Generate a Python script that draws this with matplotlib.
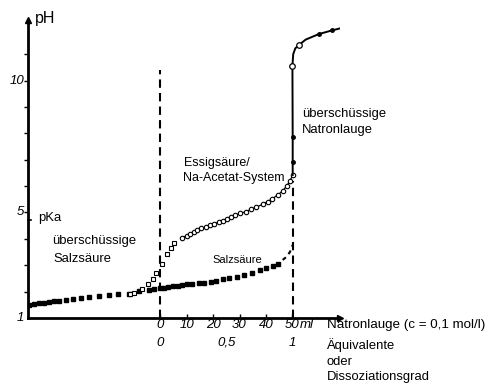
import matplotlib.pyplot as plt

plt.rcParams['font.family'] = ['Liberation Sans', 'DejaVu Sans']

# HCl titration (filled squares)
hcl_ml = [-49.6, -47.7, -45.8, -43.9, -42.0, -40.2, -38.3, -35.7, -33.0, -30.0,
          -26.9, -23.1, -19.3, -15.8, -11.7, -8.0, -4.2, -2.3, -0.1, 1.5, 3.1,
          4.9, 6.6, 8.4, 10.3, 12.2, 14.5, 16.7, 19.2, 21.1, 23.6, 26.1, 28.9,
          31.8, 34.9, 37.8, 40.0, 42.5, 44.4]
hcl_ph = [1.49, 1.53, 1.56, 1.58, 1.61, 1.63, 1.66, 1.69, 1.72, 1.76, 1.78,
          1.82, 1.86, 1.90, 1.92, 2.02, 2.06, 2.09, 2.12, 2.15, 2.17, 2.20,
          2.22, 2.25, 2.28, 2.30, 2.31, 2.34, 2.38, 2.41, 2.47, 2.52, 2.56,
          2.64, 2.69, 2.82, 2.91, 2.98, 3.05]
hcl_end_ml = [46.3, 47.8, 49.1, 50.1]
hcl_end_ph = [3.20, 3.32, 3.51, 3.77]

# acetic acid, early points (open squares)
ac_sq_ml = [-11.4, -10.1, -6.7, -4.8, -2.9, -1.7, 0.7, 2.4, 3.9, 5.4]
ac_sq_ph = [1.90, 1.96, 2.09, 2.29, 2.48, 2.69, 3.05, 3.42, 3.64, 3.83]

# acetic acid / acetate buffer (open circles, connected)
ac_ml = [8.1, 10.0, 11.2, 12.6, 13.9, 15.6, 17.3, 18.9, 20.5, 22.1, 23.6,
         25.1, 26.8, 28.4, 30.3, 32.5, 34.4, 36.3, 38.8, 40.6, 42.2, 44.4,
         46.3, 47.8, 49.1, 50.1]
ac_ph = [4.02, 4.12, 4.18, 4.27, 4.32, 4.40, 4.46, 4.52, 4.57, 4.64, 4.69,
         4.75, 4.83, 4.89, 4.97, 5.03, 5.12, 5.20, 5.31, 5.41, 5.51, 5.66,
         5.81, 6.00, 6.20, 6.42]

# excess NaOH
na_ml = [50.1, 50.1, 50.1, 50.0, 50.3, 51.1, 52.4, 55.0, 60.0, 65.0, 67.8]
na_ph = [6.42, 6.90, 7.85, 10.56, 11.00, 11.22, 11.34, 11.55, 11.76, 11.90, 11.97]
na_circ_ml = [50.0, 52.4]
na_circ_ph = [10.56, 11.34]
na_dot_ml = [50.1, 50.1, 60.0, 65.0]
na_dot_ph = [6.90, 7.85, 11.76, 11.90]

fig = plt.figure(figsize=(4.92, 3.87), dpi=100)
ax = fig.add_axes([0.0569, 0.1783, 0.6342, 0.7705])
ax.set_xlim(-50, 68)
ax.set_ylim(1, 12.3)

for s in ['top', 'right']:
    ax.spines[s].set_visible(False)
ax.spines['left'].set_linewidth(2)
ax.spines['bottom'].set_linewidth(2)
ax.plot([0], [1], marker='^', color='k', ms=4, transform=ax.transAxes, clip_on=False)
ax.plot([1], [0], marker='>', color='k', ms=4, transform=ax.transAxes, clip_on=False)

ax.set_yticks(range(2, 12))
ax.set_yticklabels([])
ax.tick_params(axis='y', direction='out', length=3, width=1)
ax.set_xticks([0, 10, 20, 30, 40, 50])
ax.set_xticklabels([])
ax.tick_params(axis='x', direction='in', length=3, width=1)

# dashed reference lines
ax.plot([0, 0], [1, 10.4], color='k', ls=(0, (4, 2.5)), lw=1.5)
ax.plot([50.1, 50.1], [1, 6.2], color='k', ls=(0, (4, 2.5)), lw=1.5)

ax.plot(hcl_ml, hcl_ph, ls='none', marker='s', ms=2.2, color='k')
ax.plot(hcl_end_ml, hcl_end_ph, ls=(0, (2, 2)), lw=1.5, color='k')

ax.plot(ac_sq_ml, ac_sq_ph, ls='none', marker='s', ms=2.8, mfc='white', mec='k', mew=0.8)
ax.plot(ac_ml, ac_ph, color='k', lw=0.9, marker='o', ms=3.2, mfc='white', mec='k', mew=0.8)
ax.plot(na_ml, na_ph, color='k', lw=1.4)
ax.plot(na_circ_ml, na_circ_ph, ls='none', marker='o', ms=4, mfc='white', mec='k', mew=0.9)
ax.plot(na_dot_ml, na_dot_ph, ls='none', marker='o', ms=2.5, color='k')

# pKa tick
ax.plot([-50, -48.8], [4.72, 4.72], color='k', lw=1.2, clip_on=False)

# texts
fs = 9.4
ax.text(-47.3, 12.36, 'pH', fontsize=11.5, va='center', ha='left')
ax.text(-51.5, 10, '10', fontsize=9.5, style='italic', va='center', ha='right')
ax.text(-51.5, 5, '5', fontsize=9.5, style='italic', va='center', ha='right')
ax.text(-51.5, 1, '1', fontsize=9.5, style='italic', va='center', ha='right')
ax.text(-46, 4.8, 'pKa', fontsize=fs, va='center', ha='left')
ax.text(-41, 3.92, 'überschüssige', fontsize=fs, va='center', ha='left')
ax.text(-40.3, 3.22, 'Salzsäure', fontsize=fs, va='center', ha='left')
ax.text(9, 6.87, 'Essigsäure/', fontsize=9, va='center', ha='left')
ax.text(8.6, 6.3, 'Na-Acetat-System', fontsize=9, va='center', ha='left')
ax.text(19.7, 3.2, 'Salzsäure', fontsize=8, va='center', ha='left')
ax.text(53.6, 8.72, 'überschüssige', fontsize=fs, va='center', ha='left')
ax.text(53.6, 8.12, 'Natronlauge', fontsize=fs, va='center', ha='left')

for v in [0, 10, 20, 30, 40, 50]:
    ax.text(v, 0.72, str(v), fontsize=9.5, style='italic', va='center', ha='center')
ax.text(55.5, 0.72, 'ml', fontsize=9.5, style='italic', va='center', ha='center')
ax.text(62.9, 0.72, 'Natronlauge (c = 0,1 mol/l)', fontsize=9.6, va='center', ha='left')
for v, s in zip([0, 25, 50], ['0', '0,5', '1']):
    ax.text(v, 0.07, s, fontsize=9.5, style='italic', va='center', ha='center')
ax.text(62.9, -0.04, 'Äquivalente', fontsize=fs, va='center', ha='left', clip_on=False)
ax.text(62.9, -0.65, 'oder', fontsize=fs, va='center', ha='left', clip_on=False)
ax.text(62.9, -1.22, 'Dissoziationsgrad', fontsize=fs, va='center', ha='left', clip_on=False)

fig.savefig('out.png', dpi=100)
